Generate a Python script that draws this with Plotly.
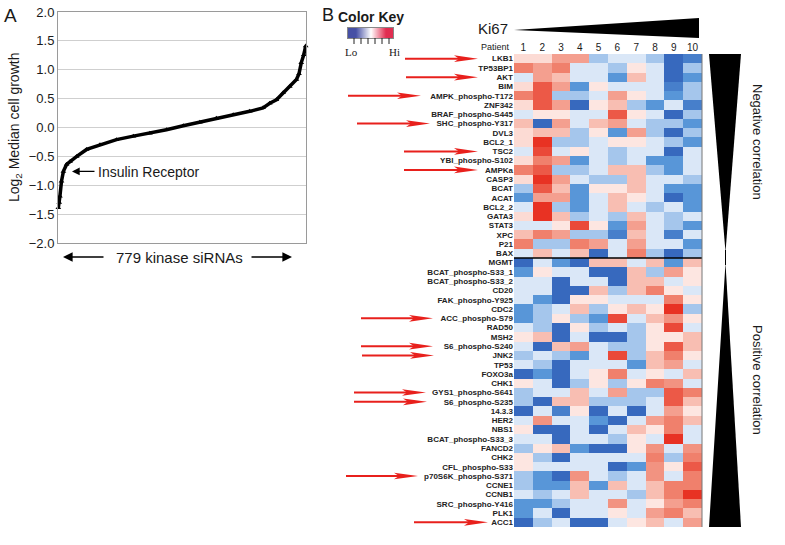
import plotly.graph_objects as go

W, H = 785, 545

# ---- Panel A: sorted growth of kinase siRNA knockdowns (rank, log2 value)
sirna_rank = [1, 4, 6, 11, 17, 27, 38, 59, 90, 132, 184, 237, 289, 341, 394,
              446, 498, 551, 603, 645, 666, 687, 708, 729, 750, 758, 765, 773, 779]
log2_growth = [-1.39, -1.30, -1.19, -0.93, -0.76, -0.64, -0.59, -0.50, -0.38, -0.30,
               -0.21, -0.15, -0.10, -0.04, 0.03, 0.09, 0.16, 0.22, 0.28, 0.34,
               0.42, 0.48, 0.60, 0.71, 0.83, 0.93, 1.12, 1.26, 1.41]
insulin_receptor = (44, -0.76)

# ---- Panel B: heatmap
patients = [1, 2, 3, 4, 5, 6, 7, 8, 9, 10]
genes_negative = ["LKB1", "TP53BP1", "AKT", "BIM", "AMPK_phospho-T172", "ZNF342",
                  "BRAF_phospho-S445", "SHC_phospho-Y317", "DVL3", "BCL2_1", "TSC2",
                  "YBI_phospho-S102", "AMPKa", "CASP3", "BCAT", "ACAT", "BCL2_2",
                  "GATA3", "STAT3", "XPC", "P21", "BAX"]
genes_positive = ["MGMT", "BCAT_phospho-S33_1", "BCAT_phospho-S33_2", "CD20",
                  "FAK_phospho-Y925", "CDC2", "ACC_phospho-S79", "RAD50", "MSH2",
                  "S6_phospho-S240", "JNK2", "TP53", "FOXO3a", "CHK1",
                  "GYS1_phospho-S641", "S6_phospho-S235", "14.3.3", "HER2", "NBS1",
                  "BCAT_phospho-S33_3", "FANCD2", "CHK2", "CFL_phospho-S33",
                  "p70S6K_phospho-S371", "CCNE1", "CCNB1", "SRC_phospho-Y416",
                  "PLK1", "ACC1"]

expr_negative = [
    [0.5, 0.5, 1.5, 1.5, -1, -0.5, -0.5, -1, -3, -2.5],
    [2, 1.5, 2, -0.5, -0.5, -1, 0.3, -0.5, -3, -1],
    [-0.5, 1.5, 1, -0.5, -0.5, -2, 1, -0.5, -3, -2],
    [0.5, 2.5, 1.5, -2, 0.3, -0.5, -0.5, -0.5, -2.5, -1],
    [2, 2.5, -1, -1, -0.5, 1.5, 0.3, -0.5, -2, -1],
    [0.5, 2.5, 1.5, -3, 0.3, 1, -1, -2, -0.5, -2.5],
    [-0.5, 0.3, 0.3, -0.5, -0.5, 2.5, 0.3, -0.5, -3, -1],
    [1, -3, 1.5, -0.5, 1, 1.5, -0.5, -1, -1, -2],
    [0.5, 1, 1, -1, 0.3, -2, 1.5, -1, -3, -1],
    [0.5, 3, -1, -1, -0.5, 0.3, 0.3, -0.5, -1, -2],
    [-0.5, 2.7, -0.5, 0.3, -0.5, -1, -0.5, -0.5, -3, -0.5],
    [0.5, 2, 1.5, -2, -0.5, -1, -0.5, -2, -2, -0.5],
    [2, 2.5, -1, -1, -0.5, 1, 1, -1, -2, -0.5],
    [0.5, 3, 1.5, -0.5, -1, -1, 1, -0.5, -0.5, -1],
    [-1, 2.5, 1, -2, 0.3, 0.3, 1, -0.5, -2, -2],
    [-2, 1.5, 1.5, -2, -0.5, 1, 0.3, -0.5, -3, -2],
    [-0.5, 3, -1, -2, -0.5, 1, -0.5, -1, -0.5, -2],
    [0.5, 3, 1, -1, -0.5, -1, 1, -0.5, -1, -0.5],
    [-0.5, -0.5, 0.3, 2.7, 0.3, -2, 1.5, -0.5, -1, -2],
    [1, 2, 1.5, -1, -1, -2.5, 1, -0.5, -2.5, -0.5],
    [2, -1, -1, 2, 1.5, -0.5, 1.5, -0.5, -0.5, -2],
    [-0.5, 1, -0.5, 1, -3, -0.5, 2, -1, -3, -1],
]
expr_positive = [
    [-3, -0.5, -2, -3, 1, 1, -0.5, 1, -2, 1],
    [-2, 0.3, -0.5, -0.5, -3, -3, 1, -1, 1.5, 0.3],
    [-0.5, -0.5, -3, -0.5, -0.5, -3, 1, 1, -0.5, 0.3],
    [-0.5, -0.5, -3, -3, 1, -1, 1, 2, 0.3, -0.5],
    [-0.5, -2, -3, 0.3, 0.3, -0.5, -0.5, -0.5, 2, 0.3],
    [-2, -1, -0.5, 1, -1, 0.3, 1, 0.3, 3, -1],
    [-2, -1, 0.3, -1, -2, 2.7, -0.5, 1, 1.7, 0.3],
    [-0.5, -1, -3, 0.3, -1, -0.5, -1, 0.3, 2.7, -0.5],
    [0.3, 1, -3, -0.5, -3, -3, -1, 0.3, 0.3, 1],
    [-0.5, -3, 1, 1.5, -0.5, -1, -1, 0.3, 2.5, 1],
    [-1, -0.5, -1, -2, -0.5, 2.7, -1, 1, 2, 0.3],
    [-0.5, -1, -3, -0.5, -0.5, -0.5, -2, 1, 1.5, -0.5],
    [-3, -2, -3, -0.5, 0.3, 2, -0.5, 0.3, -0.5, 1],
    [0.3, -0.5, -3, -1, 0.3, -1, 0.3, 2, 1.7, -0.5],
    [-1, -0.5, -0.5, 1, -0.5, 1.5, -1, -1, 2.5, 2],
    [-1, -3, 1, 1, -1, -1, -1, -0.5, 2.5, 1],
    [-3, -0.5, -2.5, 0.3, -3, -0.5, -3, -0.5, 1.5, 0.3],
    [-0.5, 1.7, -0.5, -0.5, -2, -3, -0.5, 1.5, 2, 1],
    [0.3, -3, -3, -0.5, -3, -0.5, 1, 0.3, 2, -0.5],
    [-0.5, -0.5, -3, -0.5, -0.5, -1, 0.3, -0.5, 3, -0.5],
    [-1, 0.3, 1, -2, -3, -3, 0.3, 1.7, -0.5, 1.7],
    [0.3, -1, -3, -0.5, -0.5, -0.5, -0.5, 2, -1, 2],
    [0.3, -0.5, -0.5, -0.5, -0.5, -3, -2, 1.7, 0.3, 2.5],
    [-1, -2, -3, 1.7, -0.5, -1, -0.5, 1.7, -0.5, 2],
    [-1, -2, -2, 1, -2, 1, -0.5, 1, 2, 2],
    [-0.5, -1, -0.5, 1, -0.5, -0.5, -1, 1, 2, 3],
    [-2, -2, -1, -0.5, -0.5, 1.7, -0.5, 0.3, 1.5, 2],
    [-2, -0.5, -3, -0.5, -0.5, 0.3, -0.5, 1.5, 2, 1],
    [-3, -1, -0.5, -3, -3, -0.5, 0.3, 1, -0.5, 1.5],
]

# genes flagged with red arrows: (gene, arrow start px, arrow tip px)
arrow_genes = [("LKB1", 405, 478), ("AKT", 406, 478), ("AMPK_phospho-T172", 348, 421),
               ("SHC_phospho-Y317", 357, 430), ("TSC2", 404, 478), ("AMPKa", 404, 478),
               ("ACC_phospho-S79", 361, 433), ("S6_phospho-S240", 361, 433),
               ("JNK2", 362, 434), ("GYS1_phospho-S641", 354, 426),
               ("S6_phospho-S235", 354, 427), ("p70S6K_phospho-S371", 346, 418),
               ("ACC1", 414, 488)]

key_values = [[-1, 0, 1]]

genes = genes_negative + genes_positive
expr = expr_negative + expr_positive
rows = list(range(len(genes)))


def px(x):
    return x / W


def py(y):
    return 1 - y / H


FONT = "Liberation Sans"

fig = go.Figure()

# Panel A curve
fig.add_trace(go.Scatter(
    x=sirna_rank, y=log2_growth, mode="lines+markers",
    line=dict(color="black", width=3.5),
    marker=dict(symbol="triangle-up", size=5, color="black"),
    cliponaxis=False, xaxis="x", yaxis="y", hoverinfo="skip"
))

# Panel B heatmap
colorscale = [
    [0.0, "rgb(55,105,190)"], [0.167, "rgb(88,150,216)"], [0.333, "rgb(165,198,236)"],
    [0.417, "rgb(218,231,247)"], [0.5, "rgb(246,240,242)"], [0.55, "rgb(253,230,225)"],
    [0.667, "rgb(248,190,178)"], [0.833, "rgb(240,128,108)"], [1.0, "rgb(232,50,35)"],
]
fig.add_trace(go.Heatmap(
    z=expr, x=patients, y=rows, zmin=-3, zmax=3, colorscale=colorscale,
    showscale=False, xaxis="x2", yaxis="y2"
))

# Color key gradient
fig.add_trace(go.Heatmap(
    z=key_values, zsmooth="best", zmin=-1, zmax=1, showscale=False,
    colorscale=[[0, "rgb(70,80,165)"], [0.5, "rgb(255,255,255)"], [1, "rgb(225,45,80)"]],
    xaxis="x3", yaxis="y3", hoverinfo="skip"
))

shapes = []
annotations = []

# divider between negative and positive groups
shapes.append(dict(type="line", xref="x2 domain", x0=0, x1=1, yref="y2",
                   y0=len(genes_negative) - 0.5, y1=len(genes_negative) - 0.5,
                   line=dict(color="black", width=1.5)))
# thin right edge of the heatmap
shapes.append(dict(type="line", xref="x2 domain", x0=1, x1=1, yref="y2 domain",
                   y0=0, y1=1, line=dict(color="#777", width=1)))

# red arrows
for g, x0, x1 in arrow_genes:
    r = genes.index(g)
    shapes.append(dict(type="line", xref="paper", yref="y2", x0=px(x0), x1=px(x1 - 12),
                       y0=r, y1=r, line=dict(color="#e8201c", width=2)))
    shapes.append(dict(type="path", xref="paper", yref="y2", fillcolor="#e8201c",
                       line=dict(width=0),
                       path=f"M {px(x1)},{r} L {px(x1 - 24)},{r - 0.36} "
                            f"L {px(x1 - 19)},{r} L {px(x1 - 24)},{r + 0.36} Z"))

# Ki67 wedge
shapes.append(dict(type="path", xref="paper", yref="paper", fillcolor="black",
                   line=dict(width=0),
                   path=f"M {px(514)},{py(30)} L {px(699)},{py(18)} L {px(699)},{py(38)} Z"))
# correlation wedges
shapes.append(dict(type="path", xref="paper", yref="paper", fillcolor="black",
                   line=dict(width=0),
                   path=f"M {px(709)},{py(54)} L {px(741)},{py(54)} L {px(725.5)},{py(252)} Z"))
shapes.append(dict(type="path", xref="paper", yref="paper", fillcolor="black",
                   line=dict(width=0),
                   path=f"M {px(725.5)},{py(263)} L {px(741)},{py(527)} L {px(709)},{py(527)} Z"))
shapes.append(dict(type="line", xref="paper", yref="paper", x0=px(725.5), x1=px(725.5),
                   y0=py(250), y1=py(265), line=dict(color="black", width=1)))

# color key tick marks
for tx in [354, 361, 368, 375, 382, 389]:
    shapes.append(dict(type="line", xref="paper", yref="paper", x0=px(tx), x1=px(tx),
                       y0=py(38), y1=py(44), line=dict(color="#222", width=1)))


def text(x, y, s, size, **kw):
    d = dict(x=px(x), y=py(y), xref="paper", yref="paper", text=s, showarrow=False,
             xanchor="center", yanchor="middle",
             font=dict(family=kw.pop("family", FONT), size=size, color=kw.pop("color", "#1a1a1a")))
    d.update(kw)
    annotations.append(d)


text(328, 15, "B", 18)
text(10, 15, "A", 19)
text(15, 128, "Log<sub>2</sub> Median cell growth", 14, textangle=-90)
text(179, 257, "779 kinase siRNAs", 15)
text(96, 172, "Insulin Receptor", 14, xanchor="left")
text(371, 17, "<b>Color Key</b>", 14)
text(351, 52, "Lo", 11, family="Liberation Serif")
text(394, 52, "Hi", 11, family="Liberation Serif")
text(493, 29, "Ki67", 15)
text(512, 47, "Patient", 9, xanchor="right")
text(758, 142, "Negative correlation", 13, textangle=90)
text(758, 380, "Positive correlation", 13, textangle=90)

# arrows below panel A
for head, tail in [(63, 105), (292, 250)]:
    annotations.append(dict(x=px(head), y=py(257), xref="paper", yref="paper",
                            ax=tail - head, ay=0, text="", showarrow=True,
                            arrowhead=2, arrowsize=1.2, arrowwidth=1.6, arrowcolor="black"))
# insulin receptor pointer
annotations.append(dict(x=insulin_receptor[0], y=insulin_receptor[1], xref="x", yref="y",
                        ax=24, ay=0, text="", showarrow=True, arrowhead=2,
                        arrowsize=1.1, arrowwidth=1.4, arrowcolor="black"))

fig.update_layout(
    width=W, height=H,
    margin=dict(l=0, r=0, t=0, b=0, autoexpand=False),
    paper_bgcolor="white", plot_bgcolor="white",
    showlegend=False,
    font=dict(family=FONT, color="#1a1a1a"),
    xaxis=dict(domain=[px(58), px(306)], range=[0, 780], showticklabels=False,
               showgrid=False, zeroline=False, showline=True, mirror=True,
               linecolor="#9a9a9a", linewidth=1, ticks="", automargin=False),
    yaxis=dict(domain=[py(243), py(12)], range=[-2, 2], dtick=0.5, tickformat=".1f",
               showgrid=True, gridcolor="#cfcfcf", zeroline=False, showline=True,
               mirror=True, linecolor="#9a9a9a", linewidth=1,
               tickfont=dict(size=13, color="#1a1a1a"), ticks="", automargin=False),
    xaxis2=dict(domain=[px(514), px(702)], anchor="y2", side="top",
                range=[0.5, 10.5], tickvals=patients, ticks="", automargin=False,
                tickfont=dict(size=10), showgrid=False, zeroline=False),
    yaxis2=dict(domain=[py(527), py(54)], anchor="x2", range=[len(genes) - 0.5, -0.5],
                tickvals=rows, ticktext=[f"<b>{g}</b>" for g in genes], ticks="",
                automargin=False,
                tickfont=dict(size=8, color="#222"), showgrid=False, zeroline=False),
    xaxis3=dict(domain=[px(348), px(393)], anchor="y3", showticklabels=False,
                showgrid=False, zeroline=False, showline=True, mirror=True,
                linecolor="#888", linewidth=1, ticks="", automargin=False),
    yaxis3=dict(domain=[py(38), py(28)], anchor="x3", showticklabels=False,
                showgrid=False, zeroline=False, showline=True, mirror=True,
                linecolor="#888", linewidth=1, ticks="", automargin=False),
    shapes=shapes,
    annotations=annotations,
)

# page body has a default 8px margin; drop it so the figure sits at the corner
fig.write_html("out.html", config={"displayModeBar": False},
               post_script="document.body.style.margin='0';")
